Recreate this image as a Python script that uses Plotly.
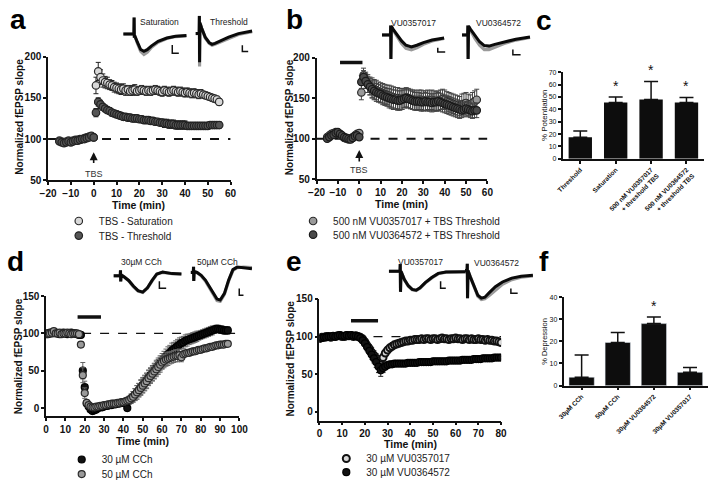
import plotly.graph_objects as go

FONT = "Liberation Sans, Arial, sans-serif"
W, H = 720, 489

# ---------------- DATA ----------------
# Panel a
a_time = list(range(-15, 56))
a_sat = [98, 97, 96, 97, 98, 97, 98, 99, 99, 100, 100, 101, 102, 103, 103, 102,
         165, 182, 175, 171, 169, 168, 166, 165, 163, 162,
         161, 160, 161, 159, 160, 158, 159, 160, 158, 159,
         160, 159, 158, 159, 158, 159, 160, 159, 158, 157,
         159, 158, 157, 158, 159, 158, 157, 158, 157, 156,
         157, 156, 155, 156, 155, 154, 155, 154, 153, 152,
         151, 150, 149, 148, 145]
a_sat_err = [3, 3, 3, 3, 3, 3, 3, 3, 3, 3, 3, 3, 3, 3, 3, 3,
             10, 11, 9, 8, 7, 7, 6, 6, 6, 6,
             6, 6, 6, 6, 5, 5, 6, 6, 5, 5,
             5, 5, 5, 5, 5, 5, 5, 5, 5, 5,
             5, 5, 5, 5, 5, 5, 5, 5, 5, 5,
             5, 5, 5, 5, 5, 5, 5, 4, 4, 4,
             4, 4, 4, 4, 4]
a_thr = [97, 96, 95, 96, 97, 96, 97, 98, 98, 99, 100, 100, 101, 102, 104, 102,
         132, 145, 142, 139, 137, 135, 134, 132, 131, 130,
         129, 128, 127, 127, 126, 126, 125, 125, 125, 124,
         124, 123, 123, 123, 122, 122, 121, 121, 120, 120,
         119, 119, 118, 118, 118, 117, 117, 117, 117, 117,
         116, 116, 116, 116, 116, 116, 116, 116, 116, 116,
         117, 117, 117, 117, 117]
a_thr_err = [3, 3, 3, 3, 3, 3, 3, 3, 3, 3, 3, 3, 3, 3, 3, 3,
             5, 5, 5, 4, 4, 4, 4, 4, 4, 4,
             4, 4, 4, 4, 4, 4, 4, 4, 4, 4,
             4, 4, 4, 4, 4, 4, 4, 4, 4, 4,
             5, 5, 5, 5, 5, 5, 5, 5, 5, 5,
             4, 4, 4, 4, 4, 4, 4, 4, 4, 4,
             4, 4, 4, 4, 4]

# Panel b
b_time = list(range(-15, 56))
b_v17 = [102, 104, 106, 107, 108, 107, 105, 103, 101, 100, 99, 100, 102, 104, 106, 107,
         157, 178, 172, 168, 165, 163, 161, 160, 158, 157,
         156, 155, 154, 153, 152, 151, 150, 150, 149, 149,
         150, 151, 150, 149, 148, 148, 147, 148, 148, 147,
         147, 148, 147, 148, 147, 146, 147, 148, 149, 148,
         146, 145, 144, 143, 142, 141, 140, 142, 143, 144,
         142, 141, 144, 146, 148]
b_v17_err = [3, 3, 3, 3, 3, 3, 3, 3, 3, 3, 3, 3, 3, 3, 3, 3,
             9, 9, 10, 11, 11, 12, 12, 12, 12, 12,
             12, 12, 12, 13, 13, 13, 13, 13, 13, 13,
             12, 12, 12, 12, 12, 12, 12, 12, 12, 12,
             12, 12, 12, 12, 12, 12, 12, 12, 12, 12,
             12, 12, 12, 12, 12, 12, 12, 13, 13, 13,
             13, 13, 13, 13, 13]
b_v72 = [100, 102, 104, 105, 107, 108, 106, 104, 102, 101, 100, 99, 101, 103, 104, 102,
         170, 176, 171, 167, 164, 161, 159, 157, 156, 155,
         153, 152, 151, 150, 149, 148, 148, 147, 147, 148,
         149, 150, 149, 148, 147, 146, 146, 146, 145, 145,
         146, 145, 145, 144, 145, 145, 146, 145, 144, 143,
         142, 141, 140, 139, 138, 137, 136, 135, 136, 137,
         136, 135, 134, 135, 135]
b_v72_err = [3, 3, 3, 3, 3, 3, 3, 3, 3, 3, 3, 3, 3, 3, 3, 3,
             8, 8, 9, 10, 10, 11, 11, 11, 11, 11,
             11, 11, 11, 12, 12, 12, 12, 12, 12, 12,
             11, 11, 11, 11, 11, 11, 11, 11, 11, 11,
             11, 11, 11, 11, 11, 11, 11, 11, 11, 11,
             11, 11, 11, 11, 11, 11, 11, 9, 9, 9,
             9, 9, 9, 9, 9]

# Panel c
c_labels = ["Threshold", "Saturation",
            "500 nM VU0357017<br>+ threshold TBS",
            "500 nM VU0364572<br>+ threshold TBS"]
c_values = [17.5, 45.5, 48, 45.5]
c_err = [5, 4.5, 14.5, 4]
c_sig = [False, True, True, True]

# Panel d
d_time = list(range(0, 95))
d_c30 = [100, 99, 101, 100, 102, 101, 100, 99, 100, 101,
         100, 99, 100, 101, 100, 100, 99, 98, 98, 50,
         28, 6, 2, -2, -4, -3, -2, 0, 1, 1,
         2, 3, 3, 4, 4, 5, 5, 6, 6, 7,
         7, 8, 0, 10, 12, 15, 18, 21, 24, 28,
         31, 34, 37, 41, 44, 47, 50, 54, 57, 60,
         63, 66, 69, 72, 74, 77, 79, 81, 83, 85,
         87, 88, 90, 91, 92, 93, 94, 95, 96, 97,
         98, 99, 100, 101, 102, 103, 104, 105, 106, 106,
         105, 105, 104, 104, 104]
d_c30_err = [2, 2, 2, 2, 2, 2, 2, 2, 2, 2,
             2, 2, 2, 2, 2, 2, 2, 2, 3, 11,
             8, 4, 3, 3, 3, 3, 3, 3, 3, 3,
             3, 3, 3, 3, 3, 3, 3, 3, 3, 3,
             3, 4, 4, 5, 6, 7, 8, 9, 9, 10,
             10, 10, 10, 10, 10, 10, 10, 10, 10, 10,
             10, 10, 10, 10, 10, 10, 9, 9, 9, 9,
             8, 8, 8, 8, 7, 7, 7, 7, 7, 6,
             6, 6, 6, 6, 6, 6, 6, 5, 5, 5,
             5, 5, 5, 5, 5]
d_c50 = [99, 100, 100, 101, 103, 100, 100, 101, 99, 100,
         100, 101, 100, 99, 100, 100, 100, 99, 85, 44,
         20, 7, 4, 2, 1, 1, 2, 2, 3, 3,
         4, 4, 5, 5, 6, 6, 6, 7, 7, 8,
         8, 9, 10, 11, 13, 15, 18, 21, 24, 27,
         30, 33, 36, 40, 43, 46, 49, 52, 55, 58,
         61, 63, 65, 66, 67, 68, 69, 70, 70, 71,
         68, 72, 73, 74, 74, 75, 76, 76, 77, 78,
         78, 79, 80, 80, 81, 82, 82, 83, 84, 84,
         85, 85, 85, 86, 86]
d_c50_err = [2, 2, 2, 2, 2, 2, 2, 2, 2, 2,
             2, 2, 2, 2, 2, 2, 2, 2, 4, 10,
             7, 3, 3, 3, 3, 3, 3, 3, 3, 3,
             3, 3, 3, 3, 3, 3, 3, 3, 3, 3,
             3, 3, 4, 5, 6, 7, 8, 9, 9, 10,
             10, 10, 10, 10, 10, 10, 10, 10, 10, 10,
             9, 9, 9, 9, 8, 8, 8, 8, 8, 8,
             6, 4, 4, 4, 4, 4, 4, 4, 4, 4,
             3, 3, 3, 3, 3, 3, 3, 3, 3, 3,
             3, 3, 3, 3, 3]

# Panel e
e_time = list(range(0, 81))
e_v17 = [98, 99, 99, 100, 100, 99, 100, 100, 101, 101,
         100, 100, 101, 101, 101, 100, 101, 100, 99, 97,
         93, 88, 84, 79, 75, 71, 67, 62, 72, 78,
         82, 85, 87, 89, 90, 91, 92, 93, 94, 94,
         95, 95, 96, 96, 96, 97, 96, 97, 97, 96,
         97, 97, 96, 97, 98, 97, 97, 96, 97, 97,
         98, 97, 97, 96, 97, 97, 96, 97, 96, 96,
         97, 96, 96, 95, 96, 95, 95, 94, 94, 93,
         92]
e_v17_err = [2, 2, 2, 2, 2, 2, 2, 2, 2, 2,
             2, 2, 2, 2, 2, 2, 2, 2, 2, 3,
             4, 5, 5, 6, 6, 6, 7, 7, 5, 4,
             3, 3, 3, 3, 3, 2, 2, 2, 2, 2,
             2, 2, 2, 2, 2, 2, 2, 2, 2, 2,
             2, 2, 2, 2, 2, 2, 2, 2, 2, 2,
             2, 2, 2, 2, 2, 2, 2, 2, 2, 2,
             2, 2, 2, 2, 2, 2, 2, 2, 2, 2,
             2]
e_v72 = [97, 98, 99, 99, 100, 100, 101, 100, 101, 102,
         101, 101, 102, 101, 102, 101, 101, 100, 98, 95,
         91, 86, 81, 76, 71, 66, 60, 55, 58, 60,
         62, 63, 63, 64, 64, 64, 64, 64, 64, 65,
         65, 65, 65, 65, 66, 66, 66, 66, 66, 66,
         67, 67, 67, 67, 67, 67, 67, 68, 68, 68,
         68, 68, 68, 69, 69, 69, 69, 69, 70, 70,
         70, 70, 71, 71, 71, 71, 71, 72, 72, 72,
         72]
e_v72_err = [2, 2, 2, 2, 2, 2, 2, 2, 2, 2,
             2, 2, 2, 2, 2, 2, 2, 2, 2, 3,
             4, 5, 5, 6, 6, 7, 8, 8, 6, 4,
             3, 3, 3, 3, 3, 3, 3, 3, 3, 3,
             3, 3, 3, 3, 3, 3, 3, 3, 3, 3,
             2, 2, 2, 2, 2, 2, 2, 2, 2, 2,
             2, 2, 2, 2, 2, 2, 2, 2, 2, 2,
             2, 2, 2, 2, 2, 2, 2, 2, 2, 2,
             2]

# Panel f
f_labels = ["30µM CCh", "50µM CCh", "30µM VU0364572", "30µM VU0357017"]
f_values = [3.8, 19.5, 28, 6]
f_err = [10, 4.5, 3, 2.2]
f_sig = [False, False, True, False]

# Drug application bars (time start, time end, level)
b_drug = [-9, 1.5, 194]
d_drug = [16.3, 28.4, 122]
e_drug = [13.9, 25.8, 121]

# Representative fEPSP waveforms (ms, mV)
sat_t = [0, 4, 4.9, 5.0, 5.1, 5.3, 6.5, 8, 9.5, 11, 13, 16, 20, 24, 29]
sat_post = [0, 0, 0, 0.9, -0.2, -0.1, -0.45, -0.85, -0.95, -0.86, -0.65, -0.4, -0.22, -0.12, -0.08]
sat_base = [0, 0, 0, 0.9, -0.2, -0.1, -0.5, -0.95, -1.12, -1.0, -0.72, -0.45, -0.25, -0.14, -0.1]
thr_t = [0, 1.5, 1.9, 2.0, 2.1, 2.3, 3.2, 5, 7, 8.5, 10, 13, 17, 22, 29]
thr_post = [0, 0, 0, 1.0, -1.6, 0.6, 0.3, -0.2, -0.5, -0.6, -0.55, -0.4, -0.2, 0.0, 0.15]
thr_base = [0, 0, 0, 1.0, -1.85, 0.6, 0.3, -0.25, -0.55, -0.65, -0.6, -0.45, -0.25, -0.05, 0.1]
v17_t = [0, 3, 3.9, 4.0, 4.1, 4.3, 5, 7, 9, 11, 13.5, 16, 19, 23, 28.5]
v17_post = [0, 0, 0, 0.55, -1.4, 0.5, 0.35, 0.0, -0.35, -0.6, -0.7, -0.6, -0.45, -0.3, -0.18]
v17_base = [0, 0, 0, 0.55, -1.4, 0.5, 0.3, -0.1, -0.5, -0.78, -0.87, -0.75, -0.55, -0.35, -0.2]
v72_t = [0, 1.5, 2.4, 2.5, 2.6, 2.8, 3.5, 5.5, 7.5, 9.5, 11.5, 14, 18, 23, 29]
v72_post = [0, 0, 0, 0.55, -1.4, 0.5, 0.35, -0.05, -0.4, -0.62, -0.65, -0.55, -0.4, -0.25, -0.12]
v72_base = [0, 0, 0, 0.55, -1.4, 0.5, 0.3, -0.2, -0.6, -0.85, -0.85, -0.7, -0.5, -0.3, -0.15]
c30_t = [0, 2.5, 2.9, 3.0, 3.1, 3.3, 4.5, 6.5, 8.5, 10.5, 12.5, 14.5, 16.5, 18.5, 21, 25, 29]
c30_post = [0, 0, 0, 0.3, -0.3, 0.05, -0.05, -0.25, -0.55, -0.8, -0.88, -0.65, -0.25, 0.1, 0.2, 0.12, 0.1]
c30_base = [0, 0, 0, 0.3, -0.3, 0.05, -0.05, -0.27, -0.58, -0.83, -0.9, -0.67, -0.27, 0.08, 0.19, 0.12, 0.1]
c50_t = [0, 0.8, 1.3, 1.4, 1.5, 1.7, 3, 5, 7, 9, 11, 12.5, 14, 16, 18, 20, 22, 25, 29]
c50_post = [0, 0, 0, 0.3, -0.45, 0.05, 0, -0.15, -0.4, -0.75, -1.15, -1.4, -1.45, -1.1, -0.4, 0.15, 0.28, 0.25, 0.2]
c50_base = [0, 0, 0, 0.3, -0.45, 0.05, 0, -0.17, -0.45, -0.8, -1.2, -1.48, -1.52, -1.15, -0.45, 0.1, 0.25, 0.28, 0.25]
e17_t = [0, 3, 4.3, 4.4, 4.5, 4.7, 6, 7.5, 9, 10.5, 12, 14, 16.5, 19, 22, 26, 30]
e17_post = [0.1, 0.1, 0.1, 0.45, -0.9, 0.1, -0.3, -0.6, -0.78, -0.82, -0.7, -0.45, -0.2, 0.0, 0.07, 0.08, 0.08]
e17_base = [0.1, 0.1, 0.1, 0.45, -0.9, 0.1, -0.32, -0.63, -0.8, -0.84, -0.72, -0.47, -0.22, -0.02, 0.06, 0.08, 0.08]
e72_t = [0, 0.6, 0.9, 1.0, 1.1, 1.3, 2.5, 4, 5.5, 7, 8.5, 10.5, 13, 16, 20, 24, 29]
e72_post = [0.1, 0.1, 0.1, 0.45, -1.35, 0.1, -0.3, -0.8, -1.2, -1.35, -1.3, -1.05, -0.75, -0.5, -0.3, -0.2, -0.15]
e72_base = [0.1, 0.1, 0.1, 0.45, -1.35, 0.1, -0.3, -0.82, -1.25, -1.42, -1.38, -1.2, -0.92, -0.62, -0.38, -0.25, -0.18]

# ---------------- HELPERS ----------------
def dx(x0, x1):
    return [x0 / W, x1 / W]

def dy(top, bot):
    return [1 - bot / H, 1 - top / H]

def ax_name(k, kind):
    return kind + ("" if k == 1 else str(k))

fig = go.Figure()
layout_axes = {}

def main_axes(k, xdom, ydom, xrange, yrange, xtick, ytick, tsize=10, bold=True, cat=False):
    tf = dict(family=FONT, size=tsize, color="#111", weight="bold" if bold else "normal")
    base = dict(showline=True, linecolor="#111", linewidth=1.5, ticks="outside", ticklen=3,
                tickwidth=1.5, tickcolor="#111", showgrid=False, zeroline=False, tickfont=tf)
    xa = dict(base, domain=xdom, anchor=ax_name(k, "y"))
    if cat:
        xa.update(type="category", tickangle=-45, ticklen=3)
    else:
        xa.update(range=xrange, tickvals=xtick)
    ya = dict(base, domain=ydom, anchor=ax_name(k, "x"), range=yrange, tickvals=ytick)
    layout_axes[ax_name(k, "xaxis")] = xa
    layout_axes[ax_name(k, "yaxis")] = ya

def inset_axes(k, xdom, ydom, yrange):
    layout_axes[ax_name(k, "xaxis")] = dict(domain=xdom, range=[0, 30], visible=False,
                                             anchor=ax_name(k, "y"), fixedrange=True)
    layout_axes[ax_name(k, "yaxis")] = dict(domain=ydom, range=yrange, visible=False,
                                             anchor=ax_name(k, "x"), fixedrange=True)

def series(k, t, v, err, name, fill, line, size, legend, ecolor="#222", lw=1.2):
    fig.add_trace(go.Scatter(
        x=t, y=v, mode="markers", name=name, legend=legend,
        xaxis=ax_name(k, "x"), yaxis=ax_name(k, "y"),
        marker=dict(color=fill, size=size, line=dict(color=line, width=lw)),
        error_y=dict(type="data", array=err, color=ecolor, thickness=1, width=2.5)))

def wave(k, t, base, post, bar):
    xa, ya = ax_name(k, "x"), ax_name(k, "y")
    fig.add_trace(go.Scatter(x=t, y=base, mode="lines", showlegend=False, xaxis=xa, yaxis=ya,
                             line=dict(color="#9a9a9a", width=3.2)))
    fig.add_trace(go.Scatter(x=t, y=post, mode="lines", showlegend=False, xaxis=xa, yaxis=ya,
                             line=dict(color="#0a0a0a", width=3)))
    fig.add_trace(go.Scatter(x=bar[0], y=bar[1], mode="lines", showlegend=False, xaxis=xa, yaxis=ya,
                             line=dict(color="#111", width=1.5)))

# ---------------- MAIN PANELS ----------------
main_axes(1, dx(41, 228), dy(52, 179), [-20, 60], [50, 200], list(range(-20, 61, 10)), [50, 100, 150, 200])
main_axes(2, dx(316, 491), dy(53, 178), [-20, 60], [50, 200], list(range(-20, 61, 10)), [50, 100, 150, 200])
main_axes(3, dx(568, 713), dy(68, 157), None, [0, 70], None, list(range(0, 71, 10)), tsize=7, bold=False, cat=True)
main_axes(4, dx(39, 237), dy(298, 421), [0, 100], [-10.4, 150], list(range(0, 101, 10)), [0, 50, 100, 150])
main_axes(5, dx(319, 505), dy(301, 426), [0, 80], [-12, 150], list(range(0, 81, 10)), [0, 50, 100, 150])
main_axes(6, dx(569, 717), dy(299, 390), None, [0, 40], None, [0, 10, 20, 30, 40], tsize=7, bold=False, cat=True)
layout_axes["xaxis3"]["tickfont"] = dict(family=FONT, size=6.5, color="#111", weight="bold")
layout_axes["xaxis6"]["tickfont"] = dict(family=FONT, size=6.5, color="#111", weight="bold")

# Panel a
series(1, a_time, a_sat, a_sat_err, "TBS - Saturation", "#d8d8d8", "#2a2a2a", 7.5, "legend")
series(1, a_time, a_thr, a_thr_err, "TBS - Threshold", "#555555", "#222222", 7.5, "legend2")
# Panel b
series(2, b_time, b_v17, b_v17_err, "500 nM VU0357017 + TBS Threshold", "#9a9a9a", "#2a2a2a", 7.5, "legend3", ecolor="#444")
series(2, b_time, b_v72, b_v72_err, "500 nM VU0364572 + TBS Threshold", "#4a4a4a", "#1a1a1a", 7.5, "legend4", ecolor="#444")
# Panel c
fig.add_trace(go.Bar(x=c_labels, y=c_values, xaxis="x3", yaxis="y3", showlegend=False,
                     marker=dict(color="#0d0d0d", line=dict(color="#0d0d0d", width=0)),
                     width=0.66,
                     error_y=dict(type="data", symmetric=False, array=c_err, arrayminus=[0, 0, 0, 0],
                                  color="#111", thickness=1.5, width=7)))
# Panel d
series(4, d_time, d_c30, d_c30_err, "30 µM CCh", "#111111", "#000000", 7, "legend5", ecolor="#666")
series(4, d_time, d_c50, d_c50_err, "50 µM CCh", "#9a9a9a", "#2a2a2a", 7, "legend6", ecolor="#666")
# Panel e
series(5, e_time, e_v17, e_v17_err, "30 µM VU0357017", "#d8d8d8", "#111111", 7, "legend7", lw=2)
series(5, e_time, e_v72, e_v72_err, "30 µM VU0364572", "#111111", "#000000", 7, "legend8")
# Panel f
fig.add_trace(go.Bar(x=f_labels, y=f_values, xaxis="x6", yaxis="y6", showlegend=False,
                     marker=dict(color="#0d0d0d"), width=0.7,
                     error_y=dict(type="data", symmetric=False, array=f_err, arrayminus=[0, 0, 0, 0],
                                  color="#111", thickness=1.5, width=7)))

# ---------------- INSETS ----------------
inset_axes(7, dx(118, 185), dy(10, 55), [-1.4, 1.0])
wave(7, sat_t, sat_base, sat_post, ([22.5, 22.5, 25.5], [-0.6, -1.05, -1.05]))
inset_axes(8, dx(192, 252), dy(10, 65), [-2.0, 1.0])
wave(8, thr_t, thr_base, thr_post, ([24, 24, 27], [-0.65, -1.0, -1.0]))
inset_axes(9, dx(383, 450), dy(12, 58), [-1.6, 1.0])
wave(9, v17_t, v17_base, v17_post, ([25.6, 25.6, 29], [-0.75, -1.0, -1.0]))
inset_axes(10, dx(465, 537), dy(12, 58), [-1.6, 1.0])
wave(10, v72_t, v72_base, v72_post, ([21.7, 21.7, 25], [-0.85, -1.15, -1.15]))
inset_axes(11, dx(108, 180), dy(262, 300), [-1.2, 0.8])
wave(11, c30_t, c30_base, c30_post, ([19.6, 19.6, 22.5], [-0.3, -0.67, -0.67]))
inset_axes(12, dx(187, 252), dy(262, 305), [-1.6, 0.6])
wave(12, c50_t, c50_base, c50_post, ([23, 23, 25], [-0.85, -1.2, -1.2]))
inset_axes(13, dx(390, 470), dy(262, 300), [-1.2, 0.6])
wave(13, e17_t, e17_base, e17_post, ([19.9, 19.9, 21.9], [-0.39, -0.72, -0.72]))
inset_axes(14, dx(468, 540), dy(262, 305), [-1.6, 0.6])
wave(14, e72_t, e72_base, e72_post, ([19.6, 19.6, 22.5], [-0.84, -1.09, -1.09]))

# ---------------- SHAPES ----------------
shapes = []
for k, xr in [(1, [-20, 60]), (2, [-20, 60]), (4, [0, 100]), (5, [0, 80])]:
    shapes.append(dict(type="line", xref=ax_name(k, "x"), yref=ax_name(k, "y"),
                       x0=xr[0], x1=xr[1], y0=100, y1=100, layer="below",
                       line=dict(color="#111", width=2 if k <= 2 else 1.3, dash="dash")))
for k, bar in [(2, b_drug), (4, d_drug), (5, e_drug)]:
    shapes.append(dict(type="line", xref=ax_name(k, "x"), yref=ax_name(k, "y"),
                       x0=bar[0], x1=bar[1], y0=bar[2], y1=bar[2],
                       line=dict(color="#111", width=3.5)))

# ---------------- ANNOTATIONS ----------------
ann = []
def txt(x, y, s, size, bold=False, angle=0, color="#111", xanchor="center", yanchor="middle"):
    ann.append(dict(x=x / W, y=1 - y / H, xref="paper", yref="paper", text=s, showarrow=False,
                    textangle=angle, xanchor=xanchor, yanchor=yanchor,
                    font=dict(family=FONT, size=size, color=color, weight="bold" if bold else "normal")))

# panel letters
for L, x, y in [("a", 10, 14), ("b", 293, 14), ("c", 549, 15), ("d", 8, 262), ("e", 293, 262), ("f", 549, 262)]:
    txt(x, y, L, 28, bold=True, color="#000")
# axis titles
txt(12, 114, "Normalized fEPSP slope", 10, bold=True, angle=-90)
txt(134, 204, "Time (min)", 10.5, bold=True)
txt(289, 114, "Normalized fEPSP slope", 10, bold=True, angle=-90)
txt(403, 203, "Time (min)", 10.5, bold=True)
txt(549, 112, "% Potentiation", 8, angle=-90)
txt(11, 360, "Normalized fEPSP slope", 10, bold=True, angle=-90)
txt(138, 447, "Time (min)", 10.5, bold=True)
txt(289, 362, "Normalized fEPSP slope", 10, bold=True, angle=-90)
txt(412, 450, "Time (min)", 10.5, bold=True)
txt(550, 345, "% Depression", 7.5, angle=-90)
# inset labels
txt(155, 16, "Saturation", 8.5, color="#222")
txt(226, 16, "Threshold", 8.5, color="#222")
txt(415, 17, "VU0357017", 8.5, color="#222")
txt(502, 17, "VU0364572", 8.5, color="#222")
txt(137, 263, "30µM CCh", 8.5, color="#222")
txt(215, 263, "50µM CCh", 8.5, color="#222")
txt(422, 263, "VU0357017", 8.5, color="#222")
txt(500, 264, "VU0364572", 8.5, color="#222")

# TBS arrows
for k, head, tail, lab in [(1, 84, 69, 58), (2, 86, 70, 62)]:
    ann.append(dict(x=0, y=head, ax=0, ay=tail, xref=ax_name(k, "x"), yref=ax_name(k, "y"),
                    axref=ax_name(k, "x"), ayref=ax_name(k, "y"), text="", showarrow=True,
                    arrowhead=2, arrowsize=1, arrowwidth=1.6, arrowcolor="#111"))
    ann.append(dict(x=0, y=lab, xref=ax_name(k, "x"), yref=ax_name(k, "y"), text="TBS",
                    showarrow=False, font=dict(family=FONT, size=9, color="#333")))

# significance stars
for lab, v, e, s in zip(c_labels, c_values, c_err, c_sig):
    if s:
        ann.append(dict(x=lab, y=v + e + 1, xref="x3", yref="y3", text="*", showarrow=False,
                        yanchor="bottom", font=dict(family=FONT, size=14, color="#111")))
for lab, v, e, s in zip(f_labels, f_values, f_err, f_sig):
    if s:
        ann.append(dict(x=lab, y=v + e + 0.5, xref="x6", yref="y6", text="*", showarrow=False,
                        yanchor="bottom", font=dict(family=FONT, size=14, color="#111")))

leg_base = dict(xanchor="left", yanchor="top", bgcolor="rgba(0,0,0,0)", tracegroupgap=0,
                font=dict(family=FONT, size=10, color="#222"))
# legend top-left positions in pixels (one entry per legend)
leg_pos = [(52, 206), (52, 221), (292, 206), (292, 220), (55, 451), (55, 466), (326, 450), (326, 464)]
legends = {}
for i, (lx, ly) in enumerate(leg_pos):
    key = "legend" if i == 0 else "legend%d" % (i + 1)
    legends[key] = dict(leg_base, x=lx / W, y=1 - ly / H)

fig.update_layout(
    width=W, height=H, margin=dict(l=0, r=0, t=0, b=0),
    paper_bgcolor="white", plot_bgcolor="rgba(0,0,0,0)",
    font=dict(family=FONT, color="#111"),
    showlegend=True,
    bargap=0.3,
    shapes=shapes, annotations=ann,
    **legends,
    **layout_axes,
)

fig.write_html("out.html", config={"displayModeBar": False},
               post_script="document.body.style.margin='0';document.body.style.overflow='hidden';")
